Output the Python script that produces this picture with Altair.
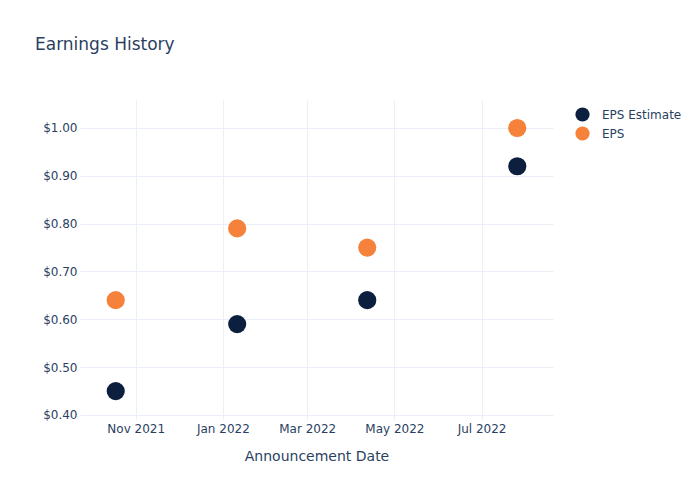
import altair as alt
import pandas as pd

dates = ["2021-10-18", "2022-01-11", "2022-04-12", "2022-07-26"]
eps_estimate = [0.45, 0.59, 0.64, 0.92]
eps_actual = [0.64, 0.79, 0.75, 1.00]
series_names = ["EPS Estimate", "EPS"]
series_colors = ["#0c1f3e", "#f5813a"]
x_ticks = ["2021-11-01", "2022-01-01", "2022-03-01", "2022-05-01", "2022-07-01"]
y_ticks = [0.4, 0.5, 0.6, 0.7, 0.8, 0.9, 1.0]

rows = []
for d, v in zip(dates, eps_estimate):
    rows.append({"date": d, "value": v, "series": "EPS Estimate"})
for d, v in zip(dates, eps_actual):
    rows.append({"date": d, "value": v, "series": "EPS"})
df = pd.DataFrame(rows)

TEXT = "#2a3f5f"
GRID = "#ebf0f8"
FONT = "DejaVu Sans"

x_values = [alt.DateTime(year=int(s[:4]), month=int(s[5:7]), date=int(s[8:10])) for s in x_ticks]

chart = (
    alt.Chart(df)
    .mark_circle(size=330, opacity=1)
    .encode(
        x=alt.X(
            "date:T",
            title="Announcement Date",
            scale=alt.Scale(domain=[alt.DateTime(year=2021, month=9, date=23), alt.DateTime(year=2022, month=8, date=20)]),
            axis=alt.Axis(
                values=x_values,
                format="%b %Y",
                labelFontSize=12,
                labelColor=TEXT,
                labelPadding=3,
                titleFontSize=14,
                titleColor=TEXT,
                titleFontWeight="normal",
                titlePadding=15,
                ticks=False,
                domain=False,
                gridColor=GRID,
                labelFont=FONT,
                titleFont=FONT,
            ),
        ),
        y=alt.Y(
            "value:Q",
            title=None,
            scale=alt.Scale(domain=[0.3895, 1.0585], nice=False, zero=False),
            axis=alt.Axis(
                values=y_ticks,
                format="$.2f",
                labelFontSize=12,
                labelColor=TEXT,
                labelPadding=3,
                ticks=False,
                domain=False,
                gridColor=GRID,
                labelFont=FONT,
            ),
        ),
        color=alt.Color(
            "series:N",
            scale=alt.Scale(domain=series_names, range=series_colors),
            sort=series_names,
            legend=alt.Legend(
                title=None,
                orient="none",
                legendX=495,
                legendY=7,
                symbolSize=201,
                symbolType="circle",
                symbolStrokeWidth=0,
                symbolOpacity=1,
                labelFontSize=12,
                labelColor=TEXT,
                labelFont=FONT,
                labelOffset=12,
                rowPadding=4,
                padding=0,
            ),
        ),
    )
    .properties(
        width=473,
        height=320,
        background="white",
        title=alt.TitleParams(
            "Earnings History",
            anchor="start",
            frame="group",
            dx=-45,
            offset=46,
            fontSize=17,
            fontWeight="normal",
            color=TEXT,
            font=FONT,
        ),
        autosize=alt.AutoSizeParams(type="none"),
        padding={"left": 80, "top": 100, "right": 147, "bottom": 80},
    )
    .configure_view(strokeWidth=0, stroke=None)
)

chart.save("out.html", embed_options={"renderer": "svg", "actions": False})
